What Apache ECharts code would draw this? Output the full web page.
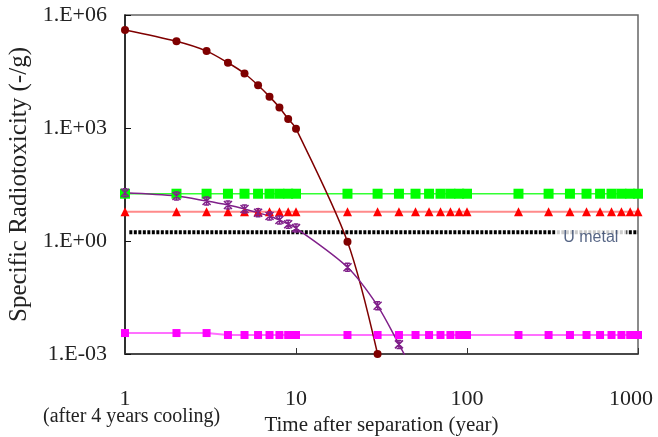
<!DOCTYPE html>
<html>
<head>
<meta charset="UTF-8">
<title></title>
<script src="https://cdn.jsdelivr.net/npm/echarts@6/dist/echarts.min.js"></script>
<style>
* { margin: 0; padding: 0; }
#app { width: 658px; height: 437px; background: #fff; }
</style>
</head>
<body>
<div id="app"></div>
<script>
// time after separation (year)
var tCore = [1, 2, 3, 4, 5, 6, 7, 8, 9, 10, 20, 30];
var tPurple = [1, 2, 3, 4, 5, 6, 7, 8, 9, 10, 20, 30, 40, 44];
var tAll = [1, 2, 3, 4, 5, 6, 7, 8, 9, 10, 20, 30, 40, 50, 60, 70, 80, 90, 100,
  200, 300, 400, 500, 600, 700, 800, 900, 1000];

// specific radiotoxicity (-/g)
var brownVals = [4.0e5, 2.0e5, 1.1e5, 5.4e4, 2.8e4, 1.36e4, 6.8e3, 3.5e3, 1.74e3, 960, 0.96, 0.001];
var purpleVals = [19, 15.6, 11.5, 9.0, 7.1, 5.6, 4.6, 3.6, 2.8, 2.2, 0.2, 0.019, 0.0018, 0.0008];
var greenVals = [18, 18, 18, 18, 18, 18, 18, 18, 18, 18, 18, 18, 18, 18, 18, 18, 18, 18, 18,
  18, 18, 18, 18, 18, 18, 18, 18, 18];
var redVals = [6, 6, 6, 6, 6, 6, 6, 6, 6, 6, 6, 6, 6, 6, 6, 6, 6, 6, 6,
  6, 6, 6, 6, 6, 6, 6, 6, 6];
var magentaVals = [0.0036, 0.0036, 0.0036, 0.0032, 0.0032, 0.0032, 0.0032, 0.0032, 0.0032, 0.0032,
  0.0032, 0.0032, 0.0032, 0.0032, 0.0032, 0.0032, 0.0032, 0.0032, 0.0032,
  0.0032, 0.0032, 0.0032, 0.0032, 0.0032, 0.0032, 0.0032, 0.0032, 0.0032];
var uMetalT = [1.06, 1000];
var uMetalVal = 1.7;
var uMetalLabelT = 530;

var xTicks = ['1', '10', '100', '1000'];

function pairs(xs, ys) {
  var out = [];
  for (var i = 0; i < xs.length; i++) out.push([xs[i], ys[i]]);
  return out;
}

var serif = '"Liberation Serif", "Times New Roman", serif';
var myChart = echarts.init(document.getElementById('app'));

var purpleData = pairs(tPurple, purpleVals);
purpleData[purpleData.length - 1] = { value: purpleData[purpleData.length - 1], symbol: 'none' };

var option = {
  animation: false,
  backgroundColor: '#fff',
  grid: {
    left: 125, right: 20, top: 15, bottom: 83,
    outerBoundsMode: 'none', containLabel: false,
    show: true, borderColor: '#666', borderWidth: 1.5
  },
  graphic: [{
    type: 'text', left: 43, top: 407,
    style: { text: '(after 4 years cooling)', font: '20px ' + serif, fill: '#222' }
  }],
  xAxis: {
    type: 'log', logBase: 10, min: 1, max: 1000,
    name: 'Time after separation (year)',
    nameLocation: 'middle', nameGap: 58,
    nameTextStyle: { fontFamily: serif, fontSize: 21, color: '#222' },
    axisLine: { lineStyle: { color: '#333', width: 1.5 } },
    axisTick: { inside: true, length: 6, lineStyle: { color: '#333' } },
    minorTick: { show: false },
    splitLine: { show: false },
    axisLabel: {
      margin: 34, fontFamily: serif, fontSize: 22, color: '#222',
      formatter: function (v) {
        var e = Math.round(Math.log10(v));
        return e === xTicks.length - 1 ? '{r|' + xTicks[e] + '}' : xTicks[e];
      },
      rich: { r: { fontFamily: serif, fontSize: 22, color: '#222', padding: [0, 14, 0, 0] } }
    }
  },
  yAxis: {
    type: 'log', logBase: 10, min: 0.001, max: 1e6, interval: 3,
    name: 'Specific Radiotoxicity (-/g)',
    nameLocation: 'middle', nameGap: 88,
    nameTextStyle: { fontFamily: serif, fontSize: 25, color: '#222' },
    axisLine: { lineStyle: { color: '#111', width: 1.5 } },
    axisTick: { inside: true, length: 6, lineStyle: { color: '#111' } },
    minorTick: { show: false },
    splitLine: { show: false },
    axisLabel: {
      margin: 18, fontFamily: serif, fontSize: 22, color: '#222',
      formatter: function (v) {
        var e = Math.round(Math.log10(v));
        return '1.E' + (e < 0 ? '-' : '+') + String(Math.abs(e)).padStart(2, '0');
      }
    }
  },
  series: [{
    type: 'line',
    data: pairs(tAll, greenVals),
    symbol: 'rect', symbolSize: 10,
    lineStyle: { color: '#33ff33', width: 1.5 },
    itemStyle: { color: '#00ff00' }
  }, {
    type: 'line',
    data: pairs(tAll, redVals),
    symbol: 'triangle', symbolSize: 9,
    lineStyle: { color: '#ff8a8a', width: 2 },
    itemStyle: { color: '#ff0000' }
  }, {
    type: 'line',
    data: pairs(uMetalT, [uMetalVal, uMetalVal]),
    symbol: 'none',
    lineStyle: { color: '#000', width: 4, type: [3, 1.5] }
  }, {
    type: 'scatter',
    data: [[uMetalLabelT, uMetalVal]],
    symbolSize: 0,
    z: 5,
    label: {
      show: true, position: 'inside', offset: [0, 5],
      formatter: 'U metal',
      fontFamily: '"Liberation Sans", Arial, sans-serif', fontSize: 16,
      color: '#2c3f66', backgroundColor: '#fff', padding: [4, 8, 2, 8]
    }
  }, {
    type: 'line',
    data: pairs(tAll, magentaVals),
    symbol: 'rect', symbolSize: 8,
    lineStyle: { color: '#ff70ff', width: 2 },
    itemStyle: { color: '#ff00ff' }
  }, {
    type: 'line',
    data: pairs(tCore, brownVals),
    smooth: 0.3,
    symbol: 'circle', symbolSize: 8,
    lineStyle: { color: '#7f0000', width: 1.5 },
    itemStyle: { color: '#7f0000' }
  }, {
    type: 'line',
    data: purpleData,
    smooth: 0.3,
    symbol: 'path://M0,0L10,10M10,0L0,10M5,0L5,10M2,0L8,0M2,10L8,10', symbolSize: 8,
    lineStyle: { color: '#80208a', width: 1.5 },
    itemStyle: { color: '#80208a', borderColor: '#80208a', borderWidth: 1.5 }
  }]
};

myChart.setOption(option);
</script>
</body>
</html>
